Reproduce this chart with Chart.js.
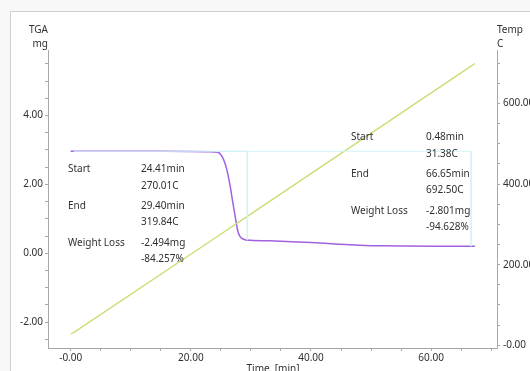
<!DOCTYPE html>
<html>
<head>
<meta charset="utf-8">
<script src="https://cdn.jsdelivr.net/npm/chart.js@4/dist/chart.umd.min.js"></script>
<style>
  html, body { margin: 0; padding: 0; background: #fff; overflow: hidden; }
  #wrap { width: 530px; height: 371px; position: relative; }
</style>
</head>
<body>
<div id="wrap"><canvas id="c" width="530" height="371"></canvas></div>
<script>
// TGA mass curve (time in min, mass in mg)
const tgaTime = [0, 5, 10, 15, 20, 23, 24.5, 25.0, 25.5, 26.0, 26.5, 27.0, 27.5, 27.8, 28.1, 28.5, 29.0, 30, 33, 36, 40, 44, 48, 52, 56, 60, 64, 67.3];
const tgaMass = [2.96, 2.96, 2.96, 2.958, 2.955, 2.95, 2.93, 2.86, 2.70, 2.42, 2.00, 1.46, 0.95, 0.66, 0.51, 0.43, 0.395, 0.375, 0.36, 0.34, 0.31, 0.27, 0.235, 0.215, 0.21, 0.207, 0.205, 0.205];

// Furnace temperature (time in min, temperature in C)
const tempTime = [0, 0.48, 24.41, 29.40, 66.65, 67.3];
const tempValue = [28, 31.38, 270.01, 319.84, 692.50, 699];

// Step evaluation guide lines
const step1Time = [24.41, 29.40, 29.40];
const step1Mass = [2.96, 2.96, 0.38];
const step2Time = [0.48, 66.65, 66.65];
const step2Mass = [2.96, 2.96, 0.205];

// Step result texts
const step1Labels = ['Start', '', 'End', '', 'Weight Loss', ''];
const step1Values = ['24.41min', '270.01C', '29.40min', '319.84C', '-2.494mg', '-84.257%'];
const step2Labels = ['Start', '', 'End', '', 'Weight Loss', ''];
const step2Values = ['0.48min', '31.38C', '66.65min', '692.50C', '-2.801mg', '-94.628%'];

// Axis tick labels
const timeTickValues = [0, 20, 40, 60];
const timeTickLabels = ['-0.00', '20.00', '40.00', '60.00'];
const tgaTickValues = [-2, 0, 2, 4];
const tgaTickLabels = ['-2.00', '0.00', '2.00', '4.00'];
const tempTickValues = [0, 200, 400, 600];
const tempTickLabels = ['-0.00', '200.00', '400.00', '600.00'];

const FONT = '"Noto Sans", "DejaVu Sans", sans-serif';
const TEXT = '#303030';
const AXIS = '#a8a8a8';

const toXY = (xs, ys) => xs.map((x, i) => ({ x: x, y: ys[i] }));

function minorTicks(from, to, step) {
  const out = [];
  for (let v = from; v <= to + 1e-9; v += step) out.push({ value: Math.round(v * 1000) / 1000 });
  return out;
}
function labelFor(values, labels) {
  return function (v) {
    const i = values.findIndex(t => Math.abs(t - v) < 1e-6);
    return i >= 0 ? labels[i] : '';
  };
}

const decor = {
  id: 'decor',
  beforeDraw(chart) {
    const ctx = chart.ctx;
    ctx.save();
    ctx.fillStyle = '#f8f8f8';
    ctx.fillRect(0, 0, chart.width, chart.height);
    ctx.fillStyle = '#ffffff';
    ctx.fillRect(11, 12, chart.width, chart.height);
    ctx.strokeStyle = '#cfcfcf';
    ctx.lineWidth = 1;
    ctx.strokeRect(10.5, 11.5, chart.width + 10, chart.height + 10);
    ctx.restore();
  },
  afterDraw(chart) {
    const ctx = chart.ctx;
    const a = chart.chartArea;
    ctx.save();
    ctx.fillStyle = TEXT;
    ctx.font = '10px ' + FONT;
    ctx.textBaseline = 'middle';

    // axis titles
    ctx.textAlign = 'right';
    ctx.fillText('TGA', a.left, 30);
    ctx.fillText('mg', a.left, 44);
    ctx.textAlign = 'left';
    ctx.fillText('Temp', a.right, 30);
    ctx.fillText('C', a.right, 44);
    ctx.textAlign = 'center';
    ctx.fillText('Time  [min]', 273, 369);

    // step result blocks
    const rows = [0, 17, 37, 53, 74, 90];
    const blocks = [
      { lx: 68, vx: 141, y0: 169, labels: step1Labels, values: step1Values },
      { lx: 351, vx: 426, y0: 137, labels: step2Labels, values: step2Values }
    ];
    ctx.textAlign = 'left';
    blocks.forEach(b => {
      rows.forEach((dy, i) => {
        if (b.labels[i]) ctx.fillText(b.labels[i], b.lx, b.y0 + dy);
        ctx.fillText(b.values[i], b.vx, b.y0 + dy);
      });
    });
    ctx.restore();
  }
};

new Chart(document.getElementById('c'), {
  type: 'scatter',
  data: {
    datasets: [
      {
        label: 'Step 2',
        data: toXY(step2Time, step2Mass),
        yAxisID: 'y',
        showLine: true,
        borderColor: '#d3f3f6',
        borderWidth: 1,
        pointRadius: 0,
        tension: 0
      },
      {
        label: 'Step 1',
        data: toXY(step1Time, step1Mass),
        yAxisID: 'y',
        showLine: true,
        borderColor: '#d3f3f6',
        borderWidth: 1,
        pointRadius: 0,
        tension: 0
      },
      {
        label: 'Temp',
        data: toXY(tempTime, tempValue),
        yAxisID: 'y2',
        showLine: true,
        borderColor: '#cadd72',
        borderWidth: 1.3,
        pointRadius: 0,
        tension: 0
      },
      {
        label: 'TGA',
        data: toXY(tgaTime, tgaMass),
        yAxisID: 'y',
        showLine: true,
        borderColor: '#a062e0',
        borderWidth: 1.5,
        pointRadius: 0,
        cubicInterpolationMode: 'monotone'
      }
    ]
  },
  options: {
    responsive: false,
    animation: false,
    devicePixelRatio: 1,
    layout: { padding: { top: 50, left: 0, right: 0, bottom: 0 } },
    plugins: { legend: { display: false }, tooltip: { enabled: false } },
    scales: {
      x: {
        type: 'linear',
        min: -3.78,
        max: 70.97,
        afterFit(s) { s.height = 23; },
        afterBuildTicks(s) { s.ticks = minorTicks(0, 70, 5); },
        border: { display: true, color: AXIS, width: 1 },
        grid: { drawOnChartArea: false, drawTicks: true, tickLength: 3, color: AXIS },
        ticks: {
          autoSkip: false,
          maxRotation: 0,
          padding: 1,
          color: TEXT,
          font: { family: FONT, size: 10 },
          callback: labelFor(timeTickValues, timeTickLabels)
        }
      },
      y: {
        type: 'linear',
        position: 'left',
        min: -2.75,
        max: 5.90,
        afterFit(s) { s.width = 48; },
        afterBuildTicks(s) { s.ticks = minorTicks(-2.5, 5.5, 0.5); },
        border: { display: true, color: AXIS, width: 1 },
        grid: { drawOnChartArea: false, drawTicks: true, tickLength: 3, color: AXIS },
        ticks: {
          autoSkip: false,
          padding: 2,
          color: TEXT,
          font: { family: FONT, size: 10 },
          callback: labelFor(tgaTickValues, tgaTickLabels)
        }
      },
      y2: {
        type: 'linear',
        position: 'right',
        min: -6.7,
        max: 732.4,
        afterFit(s) { s.width = 33; },
        afterBuildTicks(s) { s.ticks = minorTicks(0, 700, 50); },
        border: { display: true, color: AXIS, width: 1 },
        grid: { drawOnChartArea: false, drawTicks: true, tickLength: 3, color: AXIS },
        ticks: {
          autoSkip: false,
          padding: 3,
          color: TEXT,
          font: { family: FONT, size: 10 },
          callback: labelFor(tempTickValues, tempTickLabels)
        }
      }
    }
  },
  plugins: [decor]
});
</script>
</body>
</html>
